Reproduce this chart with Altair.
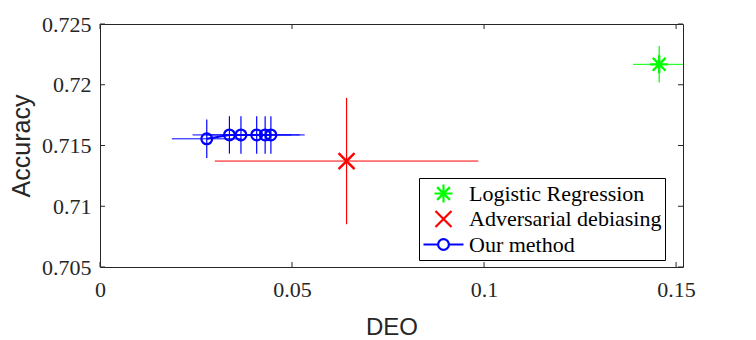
import altair as alt
import pandas as pd

# ---------------- data ----------------
series_names = ["Logistic Regression", "Adversarial debiasing", "Our method"]
series_colors = ["#00ff00", "#ff0000", "#0000ff"]

lr_deo = [0.1456]
lr_acc = [0.72168]
lr_deo_err = [0.0068]
lr_acc_err = [0.0015]

ad_deo = [0.0642]
ad_acc = [0.71372]
ad_deo_err = [0.0343]
ad_acc_err = [0.0052]

our_deo = [0.0278, 0.0337, 0.0367, 0.0408, 0.0430, 0.0445]
our_acc = [0.71555, 0.71587, 0.71587, 0.71587, 0.71587, 0.71587]
our_deo_err = [0.0091, 0.0096, 0.0090, 0.0090, 0.0090, 0.0088]
our_acc_err = [0.00158, 0.00154, 0.00154, 0.00154, 0.00154, 0.00154]

x_ticks = [0, 0.05, 0.1, 0.15]
y_ticks = [0.705, 0.71, 0.715, 0.72, 0.725]
x_domain = [0, 0.1518]
y_domain = [0.705, 0.725]

# ---------------- table ----------------
rows = []
for name, xs_, ys_, xe, ye in [
    (series_names[0], lr_deo, lr_acc, lr_deo_err, lr_acc_err),
    (series_names[1], ad_deo, ad_acc, ad_deo_err, ad_acc_err),
    (series_names[2], our_deo, our_acc, our_deo_err, our_acc_err),
]:
    for i in range(len(xs_)):
        rows.append({
            "series": name, "x": xs_[i], "y": ys_[i],
            "xlo": xs_[i] - xe[i], "xhi": xs_[i] + xe[i],
            "ylo": ys_[i] - ye[i], "yhi": ys_[i] + ye[i],
        })
df = pd.DataFrame(rows)

W, H = 583, 243
AX = "#262626"

# marker paths (unit = 20 px at size 1600)
star = "M-0.45,0L0.45,0M0,-0.45L0,0.45M-0.32,-0.32L0.32,0.32M-0.32,0.32L0.32,-0.32"
cross = "M-0.4,-0.4L0.4,0.4M-0.4,0.4L0.4,-0.4"
circ = "M0.27,0A0.27,0.27 0 1,1 -0.27,0A0.27,0.27 0 1,1 0.27,0Z"
circ_line = "M-1,0L-0.27,0M0.27,0L1,0M0.27,0A0.27,0.27 0 1,1 -0.27,0A0.27,0.27 0 1,1 0.27,0Z"

xs = alt.Scale(domain=x_domain, nice=False, zero=False)
ys = alt.Scale(domain=y_domain, nice=False, zero=False)

x_axis = alt.Axis(values=x_ticks, format="~g", grid=False, domain=False, ticks=False,
                  tickSize=0, labelFont="Liberation Serif", labelFontSize=22,
                  labelColor=AX, labelPadding=12, labelFlush=False,
                  titleFont="Liberation Sans",
                  titleFontSize=24, titleFontWeight="normal", titleColor=AX,
                  titlePadding=15)
y_axis = alt.Axis(values=y_ticks, format="~g", grid=False, domain=False, ticks=False,
                  tickSize=0, labelFont="Liberation Serif", labelFontSize=22,
                  labelColor=AX, labelPadding=9, labelFlush=False,
                  titleFont="Liberation Sans",
                  titleFontSize=25, titleFontWeight="normal", titleColor=AX,
                  titlePadding=7)

legend = alt.Legend(
    title=None, orient="none", legendX=319, legendY=154, direction="vertical",
    labelFont="Liberation Serif", labelFontSize=22, labelColor="black",
    labelLimit=400, labelOffset=4, padding=3, strokeColor="black",
    fillColor="white", symbolSize=1600, symbolStrokeWidth=2.2, clipHeight=25,
    rowPadding=0.5, symbolOpacity=1,
)

color = alt.Color("series:N", scale=alt.Scale(domain=series_names, range=series_colors),
                  legend=legend)
shape = alt.Shape("series:N", scale=alt.Scale(domain=series_names,
                                              range=[star, cross, circ_line]),
                  legend=legend)

X = lambda f: alt.X(f, scale=xs, axis=x_axis, title="DEO")
Y = lambda f: alt.Y(f, scale=ys, axis=y_axis, title="Accuracy")

base = alt.Chart(df)
is_ours = alt.datum.series == "Our method"

hbar = base.mark_rule(strokeWidth=1, clip=True).encode(
    x=X("xlo:Q"), x2="xhi:Q", y=Y("y:Q"), color=color)
vbar = base.mark_rule(strokeWidth=1.2, clip=True).encode(
    x=X("x:Q"), y=Y("ylo:Q"), y2="yhi:Q", color=color)
line = base.transform_filter(is_ours).mark_line(
    color="#0000ff", strokeWidth=2).encode(x=X("x:Q"), y=Y("y:Q"), order="x:Q")
points_other = base.transform_filter(~is_ours).mark_point(
    size=1600, strokeWidth=2.4, filled=False, opacity=1).encode(
    x=X("x:Q"), y=Y("y:Q"), color=color, shape=shape)
points_ours = base.transform_filter(is_ours).mark_point(
    size=1600, strokeWidth=2.2, filled=False, opacity=1, shape=circ,
    color="#0000ff").encode(x=X("x:Q"), y=Y("y:Q"))

xt = alt.Chart(pd.DataFrame({"t": x_ticks}))
yt = alt.Chart(pd.DataFrame({"t": y_ticks}))
tick_b = xt.mark_rule(color=AX, strokeWidth=1).encode(
    x=X("t:Q"), y=alt.value(H), y2=alt.value(H - 5))
tick_t = xt.mark_rule(color=AX, strokeWidth=1).encode(
    x=X("t:Q"), y=alt.value(0), y2=alt.value(5))
tick_l = yt.mark_rule(color=AX, strokeWidth=1).encode(
    y=Y("t:Q"), x=alt.value(0), x2=alt.value(5))
tick_r = yt.mark_rule(color=AX, strokeWidth=1).encode(
    y=Y("t:Q"), x=alt.value(W), x2=alt.value(W - 5))

chart = alt.layer(tick_b, tick_t, tick_l, tick_r, hbar, vbar, line,
                  points_other, points_ours).properties(
    width=W, height=H,
    padding={"left": 92, "top": 16, "right": 60, "bottom": 72},
    autosize=alt.AutoSizeParams(type="none"),
).configure_view(stroke=AX, strokeWidth=1)

chart.save("out.html", embed_options={"renderer": "svg", "actions": False})
